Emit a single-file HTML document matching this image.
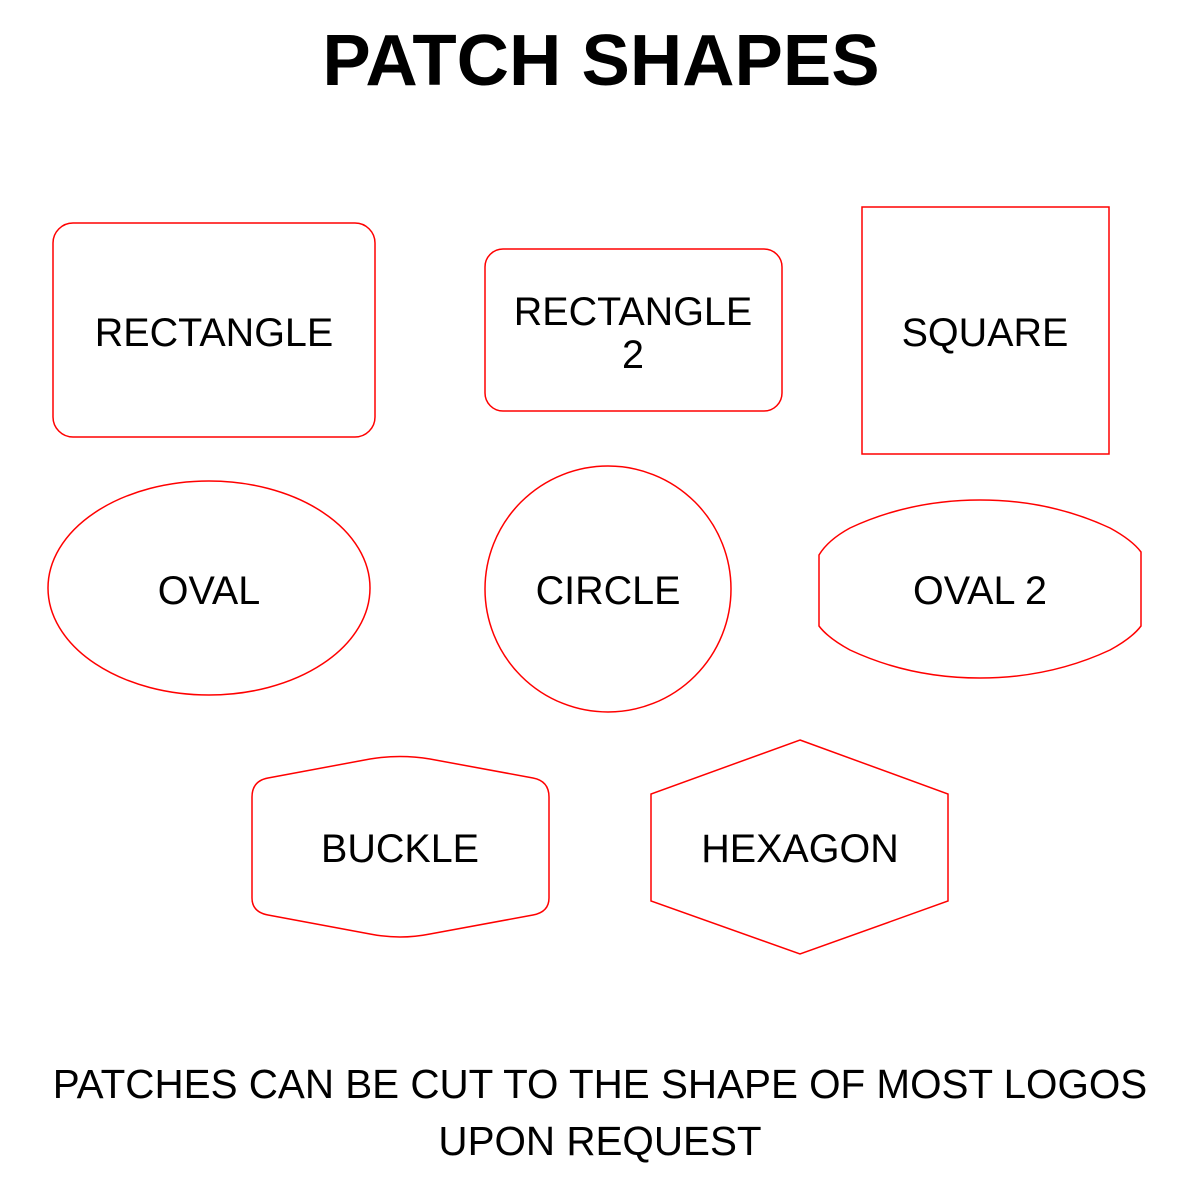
<!DOCTYPE html>
<html><head><meta charset="utf-8"><style>html,body{margin:0;padding:0;background:#fff}svg{display:block}</style></head>
<body>
<svg width="1200" height="1200" viewBox="0 0 1200 1200" xmlns="http://www.w3.org/2000/svg" font-family="Liberation Sans, Arial, sans-serif">
<rect width="1200" height="1200" fill="#fff"/>
<text x="601" y="85" text-anchor="middle" font-size="72.5" font-weight="bold">PATCH SHAPES</text>
<g fill="none" stroke="#f00" stroke-width="1.5">
<rect x="53" y="223" width="322" height="214" rx="20"/>
<rect x="485" y="249" width="297" height="162" rx="18"/>
<rect x="862" y="207" width="247" height="247"/>
<ellipse cx="209" cy="588" rx="161" ry="107"/>
<circle cx="608" cy="589" r="123"/>
<path d="M819,555 Q828,540 850,528 Q910,500 980,500 Q1050,500 1110,528 Q1132,540 1141,552 L1141,626 Q1132,638 1110,650 Q1050,678 980,678 Q910,678 850,650 Q828,638 819,626 Z"/>
<path d="M268,778 L370,759 Q400,754 430,759 L533,778 Q549,781 549,797 L549,898 Q549,912 533,915 L430,934 Q400,940 370,934 L268,915 Q252,912 252,898 L252,797 Q252,781 268,778 Z"/>
<path d="M800,740 L948,794 L948,901 L800,954 L651,901 L651,794 Z"/>
</g>
<g font-size="39.5" text-anchor="middle" fill="#000">
<text x="214" y="346">RECTANGLE</text>
<text x="633" y="325">RECTANGLE</text>
<text x="633" y="368">2</text>
<text x="985" y="346">SQUARE</text>
<text x="209" y="604">OVAL</text>
<text x="608" y="604">CIRCLE</text>
<text x="980" y="604">OVAL 2</text>
<text x="400" y="862">BUCKLE</text>
<text x="800" y="862">HEXAGON</text>
</g>
<g font-size="40.4" text-anchor="middle" fill="#000">
<text x="600" y="1098">PATCHES CAN BE CUT TO THE SHAPE OF MOST LOGOS</text>
<text x="600" y="1155">UPON REQUEST</text>
</g>
</svg>
</body></html>
